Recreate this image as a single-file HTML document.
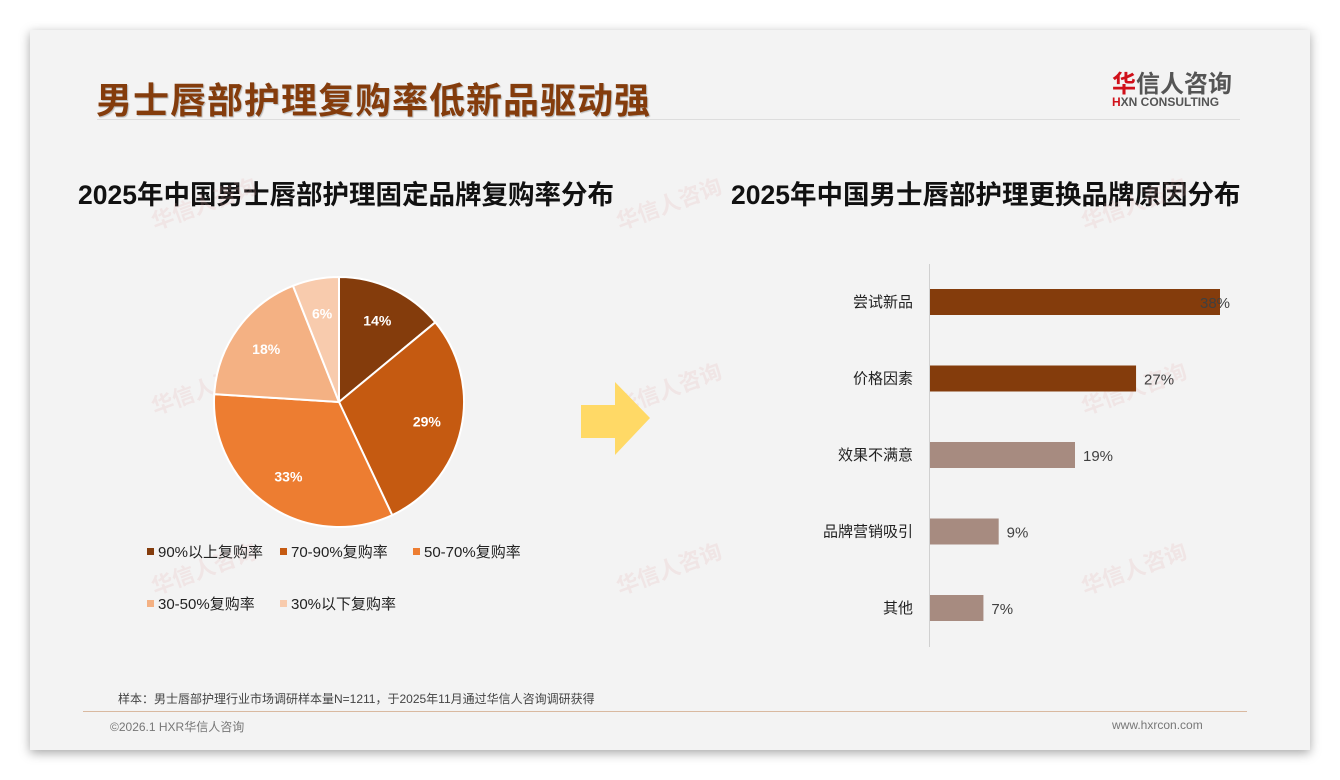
<!DOCTYPE html>
<html><head><meta charset="utf-8">
<style>
html,body{margin:0;padding:0;width:1340px;height:780px;background:#fff;overflow:hidden;font-family:"Liberation Sans","Noto Sans CJK SC",sans-serif;}
#card{position:absolute;left:30px;top:30px;width:1280px;height:720px;background:#f3f3f3;box-shadow:0 3px 10px rgba(0,0,0,0.35);}
.abs{position:absolute;white-space:nowrap;}
</style></head><body>
<div id="card"></div>
<div class="abs" style="left:96px;top:72px;font-size:36px;font-weight:bold;color:#843C0C;letter-spacing:1px;text-shadow:1px 1px 1px rgba(0,0,0,0.25);">男士唇部护理复购率低新品驱动强</div>
<div class="abs" style="left:1112px;top:64px;font-size:24px;color:#555;font-weight:bold;"><span style="color:#d0101a">华</span>信人咨询</div>
<div class="abs" style="left:1112px;top:95px;font-size:12px;color:#555;font-weight:bold;"><span style="color:#d0101a">H</span>XN CONSULTING</div>
<div class="abs" style="left:97px;top:119px;width:1143px;height:1px;background:#ddd;"></div>
<div class="abs" style="left:78px;top:173px;font-size:26.5px;font-weight:bold;color:#111;">2025年中国男士唇部护理固定品牌复购率分布</div>
<div class="abs" style="left:731px;top:173px;font-size:26.5px;font-weight:bold;color:#111;">2025年中国男士唇部护理更换品牌原因分布</div>
<svg class="abs" style="left:0;top:0" width="1340" height="780" id="svg">
<g fill="#e7b0b0" opacity="0.2" font-size="22" font-weight="bold">
<text transform="translate(155,230) rotate(-20)">华信人咨询</text>
<text transform="translate(620,230) rotate(-20)">华信人咨询</text>
<text transform="translate(1085,230) rotate(-20)">华信人咨询</text>
<text transform="translate(155,415) rotate(-20)">华信人咨询</text>
<text transform="translate(620,415) rotate(-20)">华信人咨询</text>
<text transform="translate(1085,415) rotate(-20)">华信人咨询</text>
<text transform="translate(155,595) rotate(-20)">华信人咨询</text>
<text transform="translate(620,595) rotate(-20)">华信人咨询</text>
<text transform="translate(1085,595) rotate(-20)">华信人咨询</text>
</g>
<polygon points="581,405 615,405 615,382 650,418 615,455 615,438 581,438" fill="#FFD966"/>
<line x1="929.5" y1="264" x2="929.5" y2="647" stroke="#d0d0d0"/>
<g id="pie"></g><g id="bars"></g>
</svg>
<div class="abs" id="legend" style="left:147px;top:543px;width:400px;white-space:normal;font-size:15px;color:#222;"></div>
<div class="abs" style="left:118px;top:690px;font-size:12px;color:#444;">样本：男士唇部护理行业市场调研样本量N=1211，于2025年11月通过华信人咨询调研获得</div>
<div class="abs" style="left:83px;top:711px;width:1164px;height:1px;background:#d9b9a0;"></div>
<div class="abs" style="left:110px;top:718px;font-size:12px;color:#777;">©2026.1 HXR华信人咨询</div>
<div class="abs" style="left:1112px;top:718px;font-size:12px;color:#777;">www.hxrcon.com</div>
<script>
const pieLabels=["90%以上复购率","70-90%复购率","50-70%复购率","30-50%复购率","30%以下复购率"];
const pieValues=[14,29,33,18,6];
const pieColors=["#843C0C","#C55A11","#ED7D31","#F4B183","#F8CBAD"];
const barCats=["尝试新品","价格因素","效果不满意","品牌营销吸引","其他"];
const barValues=[38,27,19,9,7];
const barColors=["#843C0C","#843C0C","#A78B80","#A78B80","#A78B80"];
const NS="http://www.w3.org/2000/svg";
const pie=document.getElementById('pie');
const cx=339,cy=402,r=125;
let total=pieValues.reduce((a,b)=>a+b,0),acc=0;
pieValues.forEach((v,i)=>{
  const a0=acc/total*2*Math.PI-Math.PI/2; acc+=v; const a1=acc/total*2*Math.PI-Math.PI/2;
  const p=document.createElementNS(NS,'path');
  const large=(a1-a0)>Math.PI?1:0;
  p.setAttribute('d',`M${cx},${cy} L${cx+r*Math.cos(a0)},${cy+r*Math.sin(a0)} A${r},${r} 0 ${large} 1 ${cx+r*Math.cos(a1)},${cy+r*Math.sin(a1)} Z`);
  p.setAttribute('fill',pieColors[i]);p.setAttribute('stroke','#fff');p.setAttribute('stroke-width','2');
  
  
  pie.appendChild(p);
  const am=(a0+a1)/2,lr=r*0.72;
  const t=document.createElementNS(NS,'text');
  t.setAttribute('x',cx+lr*Math.cos(am));t.setAttribute('y',cy+lr*Math.sin(am)+5);
  t.setAttribute('text-anchor','middle');t.setAttribute('fill','#fff');t.setAttribute('font-size','14');t.setAttribute('font-weight','bold');
  t.textContent=v+'%';
  
  
  pie.appendChild(t);
});
const bars=document.getElementById('bars');
const x0=930,scale=290/38,yStart=302,step=76.5,bh=26;
barCats.forEach((c,i)=>{
  const y=yStart+i*step;
  const rc=document.createElementNS(NS,'rect');
  rc.setAttribute('x',x0);rc.setAttribute('y',y-bh/2);rc.setAttribute('width',barValues[i]*scale);rc.setAttribute('height',bh);rc.setAttribute('fill',barColors[i]);
  
  
  bars.appendChild(rc);
  const l=document.createElementNS(NS,'text');
  l.setAttribute('x',913);l.setAttribute('y',y+5);l.setAttribute('text-anchor','end');l.setAttribute('font-size','15');l.setAttribute('fill','#222');
  l.textContent=c;
  
  
  bars.appendChild(l);
  const vt=document.createElementNS(NS,'text');
  vt.setAttribute('x',x0+barValues[i]*scale+(i==0?-20:8));vt.setAttribute('y',y+6);vt.setAttribute('font-size','15');vt.setAttribute('fill','#404040');
  vt.textContent=barValues[i]+'%';
  
  
  bars.appendChild(vt);
});
const lg=document.getElementById('legend');
pieLabels.forEach((n,i)=>{
  const d=document.createElement('span');
  d.style.cssText='display:inline-block;width:133px;height:52px;line-height:20px;white-space:nowrap;';
  d.innerHTML=`<span style="display:inline-block;width:7px;height:7px;background:${pieColors[i]};margin-right:4px;vertical-align:2px"></span>${n}`;
  
  
  lg.appendChild(d);
});
</script>
</body></html>
